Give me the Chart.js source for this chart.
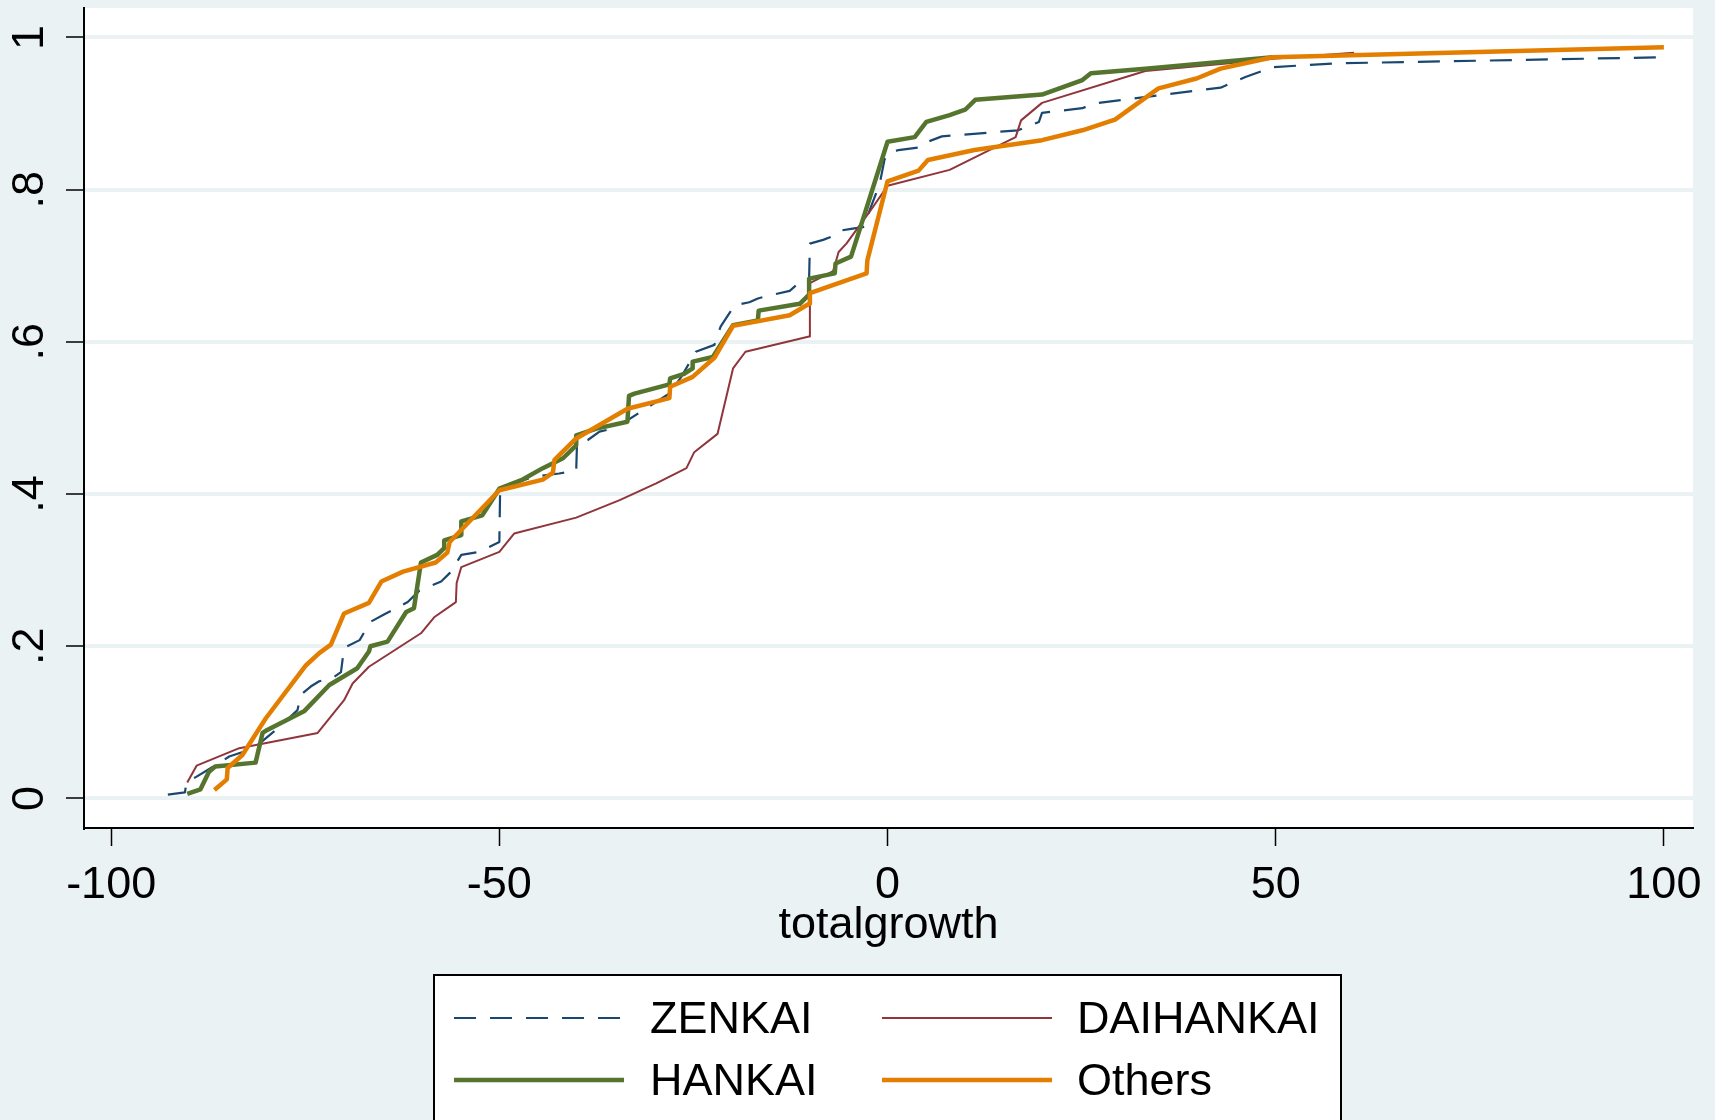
<!DOCTYPE html>
<html>
<head>
<meta charset="utf-8">
<title>totalgrowth distribution</title>
<script src="https://cdn.jsdelivr.net/npm/chart.js@4.4.1/dist/chart.umd.min.js"></script>
<style>
    html, body { margin: 0; padding: 0; background: #eaf2f3; }
    #wrap { width: 1715px; height: 1120px; }
</style>
</head>
<body>
<div id="wrap"><canvas id="cdfChart" width="1715" height="1120"></canvas></div>
<script>
// Cumulative share of cases by totalgrowth, one curve per damage class
const zenkaiX = [-92.7, -90.5, -90.3, -89.1, -86.5, -84.8, -81.6, -78.1, -76.0, -75.6, -74.3, -73.2, -71.5, -70.4, -70.0,
    -68.0, -66.6, -64.8, -61.8, -60.3, -57.5, -56.4, -54.9, -52.6, -50.0, -49.9, -47.0, -45.3, -42.3, -40.1, -40.0,
    -38.6, -37.1, -35.8, -33.5, -28.1, -26.5, -24.7, -22.3, -21.5, -19.7, -17.8, -16.7, -15.2, -12.6, -11.8, -10.1,
    -10.0, -8.3, -6.8, -6.2, -4.9, -3.0, -2.3, -1.0, -0.4, 0.0, 1.4, 4.5, 5.2, 7.0, 16.8, 19.5, 19.9, 25.1, 26.5,
    34.9, 42.9, 46.1, 49.6, 58.0, 100];
const zenkaiY = [0.005, 0.008, 0.021, 0.028, 0.044, 0.055, 0.066, 0.096, 0.116, 0.136, 0.147, 0.154, 0.158, 0.166, 0.198,
    0.208, 0.232, 0.242, 0.258, 0.273, 0.285, 0.296, 0.320, 0.324, 0.337, 0.405, 0.418, 0.423, 0.427, 0.431, 0.466,
    0.471, 0.482, 0.485, 0.497, 0.532, 0.555, 0.587, 0.596, 0.620, 0.648, 0.652, 0.657, 0.661, 0.667, 0.674, 0.683,
    0.729, 0.734, 0.740, 0.746, 0.748, 0.751, 0.773, 0.808, 0.839, 0.847, 0.852, 0.856, 0.863, 0.870, 0.878, 0.889,
    0.901, 0.907, 0.913, 0.924, 0.934, 0.948, 0.961, 0.966, 0.974];

const daihankaiX = [-90.2, -89.0, -83.5, -73.4, -70.0, -68.9, -66.8, -60.1, -58.4, -55.6, -55.5, -54.9, -50.0, -48.1,
    -40.1, -34.5, -29.8, -25.9, -24.9, -21.9, -19.9, -18.3, -10.1, -10.0, -7.0, -6.3, -5.3, -2.3, 0.0, 8.0, 16.5,
    17.2, 19.9, 33.2, 44.0, 49.6, 60.1];
const daihankaiY = [0.021, 0.043, 0.066, 0.086, 0.129, 0.151, 0.173, 0.217, 0.238, 0.258, 0.283, 0.304, 0.324, 0.348,
    0.369, 0.392, 0.414, 0.434, 0.455, 0.479, 0.565, 0.587, 0.607, 0.677, 0.693, 0.718, 0.729, 0.771, 0.805, 0.826,
    0.869, 0.891, 0.914, 0.956, 0.966, 0.972, 0.980];

const hankaiX = [-90.2, -88.5, -87.4, -86.6, -81.4, -80.5, -79.9, -75.1, -71.9, -68.3, -66.8, -66.6, -64.4, -62.0,
    -61.0, -60.1, -58.0, -57.1, -57.1, -54.9, -54.9, -52.2, -50.0, -47.0, -44.4, -41.8, -40.1, -40.1, -37.5, -33.5,
    -33.3, -32.6, -28.1, -28.0, -26.2, -25.1, -25.1, -22.5, -19.9, -16.7, -16.6, -11.3, -10.1, -10.1, -6.8, -6.7,
    -4.7, -3.2, 0.0, 3.5, 5.0, 8.0, 10.0, 11.3, 19.9, 25.1, 26.2, 33.2, 49.6];
const hankaiY = [0.006, 0.012, 0.035, 0.042, 0.047, 0.086, 0.090, 0.115, 0.149, 0.171, 0.193, 0.200, 0.206, 0.245,
    0.250, 0.310, 0.320, 0.329, 0.339, 0.346, 0.364, 0.372, 0.407, 0.419, 0.434, 0.447, 0.464, 0.477, 0.486, 0.495,
    0.529, 0.532, 0.544, 0.552, 0.558, 0.565, 0.574, 0.580, 0.622, 0.628, 0.641, 0.650, 0.662, 0.683, 0.690, 0.703,
    0.712, 0.760, 0.863, 0.869, 0.889, 0.898, 0.905, 0.918, 0.925, 0.944, 0.953, 0.959, 0.974];

const othersX = [-86.7, -85.1, -85.0, -83.1, -80.1, -74.9, -73.2, -71.7, -70.0, -66.8, -65.2, -62.4, -58.2, -56.7,
    -56.4, -50.0, -44.4, -43.1, -42.9, -40.1, -33.5, -28.1, -28.0, -25.1, -22.3, -19.9, -12.6, -10.1, -10.0, -2.7,
    -2.6, 0.0, 4.0, 5.2, 11.2, 19.9, 25.1, 29.3, 34.9, 39.8, 42.9, 49.6, 100];
const othersY = [0.011, 0.025, 0.040, 0.057, 0.105, 0.175, 0.191, 0.202, 0.243, 0.257, 0.285, 0.298, 0.310, 0.323,
    0.337, 0.405, 0.419, 0.428, 0.445, 0.473, 0.512, 0.526, 0.541, 0.554, 0.579, 0.621, 0.635, 0.650, 0.664, 0.690,
    0.707, 0.811, 0.825, 0.839, 0.852, 0.865, 0.878, 0.892, 0.933, 0.946, 0.959, 0.974, 0.987];

const seriesNames = ['ZENKAI', 'DAIHANKAI', 'HANKAI', 'Others'];
const xTickValues = [-100, -50, 0, 50, 100];
const xTickLabels = ['-100', '-50', '0', '50', '100'];
const yTickValues = [0, 0.2, 0.4, 0.6, 0.8, 1];
const yTickLabels = ['0', '.2', '.4', '.6', '.8', '1'];

const FONT = '"Liberation Sans", Arial, Helvetica, sans-serif';
const BG = '#eaf2f3';

function toPoints(xs, ys) {
    return xs.map((x, i) => ({ x: x, y: ys[i] }));
}

// Bluish graph region with a white plot region
const backgroundPlugin = {
    id: 'graphRegion',
    beforeDraw(chart) {
        const { ctx, chartArea } = chart;
        ctx.save();
        ctx.fillStyle = BG;
        ctx.fillRect(0, 0, chart.width, chart.height);
        ctx.fillStyle = '#ffffff';
        ctx.fillRect(chartArea.left, chartArea.top, chartArea.right - chartArea.left, chartArea.bottom - chartArea.top);
        ctx.restore();
    }
};

// Y tick labels run bottom-to-top
const yLabelPlugin = {
    id: 'rotatedYLabels',
    afterDraw(chart) {
        const { ctx } = chart;
        const yScale = chart.scales.y;
        ctx.save();
        ctx.font = '45px ' + FONT;
        ctx.fillStyle = '#000';
        ctx.textAlign = 'center';
        ctx.textBaseline = 'middle';
        yTickValues.forEach((v, i) => {
            ctx.save();
            ctx.translate(31, yScale.getPixelForValue(v));
            ctx.rotate(-Math.PI / 2);
            ctx.fillText(yTickLabels[i], 0, 0);
            ctx.restore();
        });
        ctx.restore();
    }
};

// Boxed two-column legend under the axis title
const legendPlugin = {
    id: 'boxLegend',
    afterDraw(chart) {
        const { ctx } = chart;
        const box = { left: 434, top: 975, width: 907, height: 200 };
        const lineStarts = [454, 882];
        const lineLength = 170;
        const textStarts = [650, 1077];
        const rowYs = [1018, 1080];

        ctx.save();
        ctx.fillStyle = '#ffffff';
        ctx.fillRect(box.left, box.top, box.width, box.height);
        ctx.strokeStyle = '#000';
        ctx.lineWidth = 2;
        ctx.strokeRect(box.left, box.top, box.width, box.height);

        ctx.font = '45px ' + FONT;
        ctx.textAlign = 'left';
        ctx.textBaseline = 'middle';
        chart.data.datasets.forEach((ds, i) => {
            const col = i % 2;
            const row = Math.floor(i / 2);
            const y = rowYs[row];
            ctx.beginPath();
            ctx.strokeStyle = ds.borderColor;
            ctx.lineWidth = ds.borderWidth;
            ctx.setLineDash(ds.borderDash || []);
            ctx.moveTo(lineStarts[col], y);
            ctx.lineTo(lineStarts[col] + lineLength, y);
            ctx.stroke();
            ctx.setLineDash([]);
            ctx.fillStyle = '#000';
            ctx.fillText(ds.label, textStarts[col], y + 2.5);
        });
        ctx.restore();
    }
};

document.addEventListener('DOMContentLoaded', function() {
    const ctx = document.getElementById('cdfChart').getContext('2d');

    new Chart(ctx, {
        type: 'line',
        data: {
            datasets: [
                {
                    label: seriesNames[0],
                    data: toPoints(zenkaiX, zenkaiY),
                    borderColor: '#1a476f',
                    borderWidth: 2.2,
                    borderDash: [22, 14],
                    order: 4
                },
                {
                    label: seriesNames[1],
                    data: toPoints(daihankaiX, daihankaiY),
                    borderColor: '#90353b',
                    borderWidth: 2,
                    order: 3
                },
                {
                    label: seriesNames[2],
                    data: toPoints(hankaiX, hankaiY),
                    borderColor: '#55752f',
                    borderWidth: 4.5,
                    order: 2
                },
                {
                    label: seriesNames[3],
                    data: toPoints(othersX, othersY),
                    borderColor: '#e37e00',
                    borderWidth: 4.5,
                    order: 1
                }
            ]
        },
        options: {
            responsive: false,
            devicePixelRatio: 1,
            animation: false,
            layout: {
                padding: { left: 0, top: 8, right: 22, bottom: 0 }
            },
            elements: {
                point: { radius: 0 },
                line: { tension: 0, fill: false, borderJoinStyle: 'round' }
            },
            plugins: {
                legend: { display: false },
                tooltip: { enabled: false }
            },
            scales: {
                x: {
                    type: 'linear',
                    min: -103.5,
                    max: 103.75,
                    afterBuildTicks: (scale) => {
                        scale.ticks = xTickValues.map(v => ({ value: v }));
                    },
                    afterFit: (scale) => {
                        scale.height = 292;
                    },
                    grid: {
                        drawOnChartArea: false,
                        drawTicks: true,
                        tickLength: 18,
                        tickColor: '#000',
                        tickWidth: 1.5
                    },
                    border: { display: true, color: '#000', width: 2 },
                    ticks: {
                        font: { family: FONT, size: 45 },
                        color: '#000',
                        padding: 13,
                        maxRotation: 0,
                        autoSkip: false,
                        callback: (value, index) => xTickLabels[index]
                    },
                    title: {
                        display: true,
                        text: 'totalgrowth',
                        color: '#000',
                        font: { family: FONT, size: 45 },
                        padding: { top: 0, bottom: 167 }
                    }
                },
                y: {
                    type: 'linear',
                    min: -0.0389,
                    max: 1.0387,
                    afterBuildTicks: (scale) => {
                        scale.ticks = yTickValues.map(v => ({ value: v }));
                    },
                    afterFit: (scale) => {
                        scale.width = 84;
                    },
                    grid: {
                        color: BG,
                        lineWidth: 4,
                        drawTicks: true,
                        tickLength: 18,
                        tickColor: '#000',
                        tickWidth: 1.5
                    },
                    border: { display: true, color: '#000', width: 2 },
                    ticks: { display: false }
                }
            }
        },
        plugins: [backgroundPlugin, yLabelPlugin, legendPlugin]
    });
});
</script>
</body>
</html>
